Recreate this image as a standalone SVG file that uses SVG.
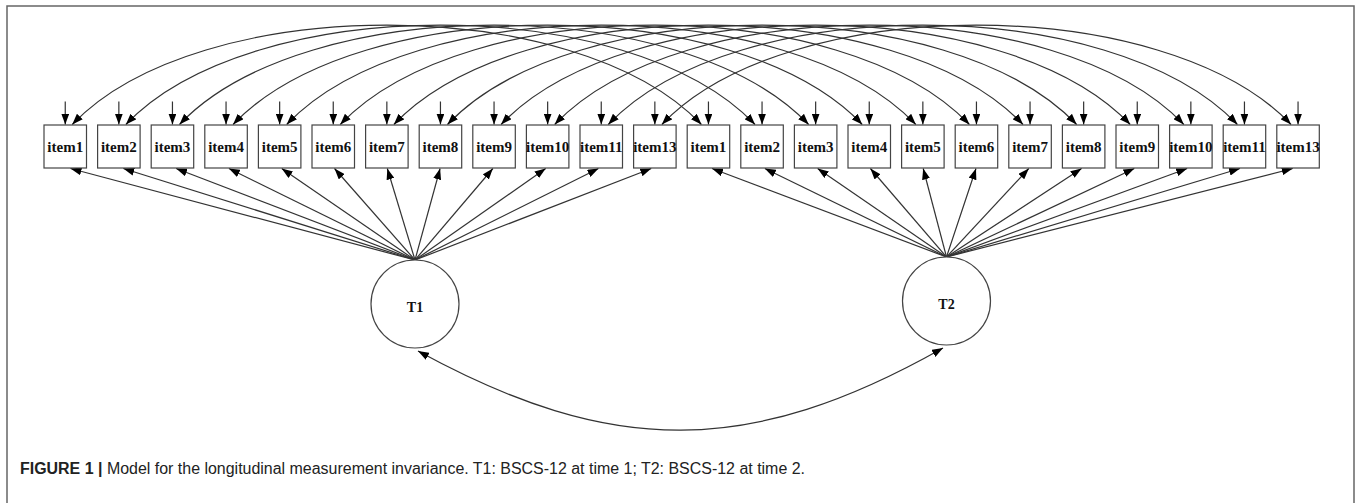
<svg xmlns="http://www.w3.org/2000/svg" width="1357" height="503" viewBox="0 0 1357 503">
<style>
.frame{fill:none;stroke:#666;stroke-width:1.5}
.box{fill:#fff;stroke:#444;stroke-width:1.2}
.lat{fill:#fff;stroke:#444;stroke-width:1.2}
.lbl{font-family:"Liberation Serif","Times New Roman",serif;font-weight:bold;font-size:15px;fill:#111;text-anchor:middle}
.tl{font-family:"Liberation Serif","Times New Roman",serif;font-weight:bold;font-size:14px;fill:#111;text-anchor:middle}
.e{fill:none;stroke:#333;stroke-width:1.2;marker-end:url(#ah)}
.c{fill:none;stroke:#333;stroke-width:1.2;marker-start:url(#ah);marker-end:url(#ah)}
.cap{font-family:"Liberation Sans",Arial,sans-serif;font-size:16px;fill:#222}
</style>
<defs>
<marker id="ah" viewBox="0 0 11 8" refX="11" refY="4" markerWidth="11" markerHeight="8" markerUnits="userSpaceOnUse" orient="auto-start-reverse">
<path d="M0,0 L11,4 L0,8 z" fill="#000"/>
</marker>
</defs>
<rect width="1357" height="503" fill="#fff"/>
<path class="frame" d="M7,503 V6 H1354 V503"/>
<g id="connectors">
<path class="c" d="M72.25,124.5 C198.25,-8 575.45,-8 701.45,124.5"/>
<path class="c" d="M125.85,124.5 C251.85,-8 629.05,-8 755.05,124.5"/>
<path class="c" d="M179.45,124.5 C305.45,-8 682.65,-8 808.65,124.5"/>
<path class="c" d="M233.05,124.5 C359.05,-8 736.25,-8 862.25,124.5"/>
<path class="c" d="M286.65,124.5 C412.65,-8 789.85,-8 915.85,124.5"/>
<path class="c" d="M340.25,124.5 C466.25,-8 843.45,-8 969.45,124.5"/>
<path class="c" d="M393.85,124.5 C519.85,-8 897.05,-8 1023.05,124.5"/>
<path class="c" d="M447.45,124.5 C573.45,-8 950.65,-8 1076.65,124.5"/>
<path class="c" d="M501.05,124.5 C627.05,-8 1004.25,-8 1130.25,124.5"/>
<path class="c" d="M554.65,124.5 C680.65,-8 1057.85,-8 1183.85,124.5"/>
<path class="c" d="M608.25,124.5 C734.25,-8 1111.45,-8 1237.45,124.5"/>
<path class="c" d="M661.85,124.5 C787.85,-8 1165.05,-8 1291.05,124.5"/>
<path class="e" d="M65.25,101.5 V124.5"/>
<path class="e" d="M118.85,101.5 V124.5"/>
<path class="e" d="M172.45,101.5 V124.5"/>
<path class="e" d="M226.05,101.5 V124.5"/>
<path class="e" d="M279.65,101.5 V124.5"/>
<path class="e" d="M333.25,101.5 V124.5"/>
<path class="e" d="M386.85,101.5 V124.5"/>
<path class="e" d="M440.45,101.5 V124.5"/>
<path class="e" d="M494.05,101.5 V124.5"/>
<path class="e" d="M547.65,101.5 V124.5"/>
<path class="e" d="M601.25,101.5 V124.5"/>
<path class="e" d="M654.85,101.5 V124.5"/>
<path class="e" d="M708.45,101.5 V124.5"/>
<path class="e" d="M762.05,101.5 V124.5"/>
<path class="e" d="M815.65,101.5 V124.5"/>
<path class="e" d="M869.25,101.5 V124.5"/>
<path class="e" d="M922.85,101.5 V124.5"/>
<path class="e" d="M976.45,101.5 V124.5"/>
<path class="e" d="M1030.05,101.5 V124.5"/>
<path class="e" d="M1083.65,101.5 V124.5"/>
<path class="e" d="M1137.25,101.5 V124.5"/>
<path class="e" d="M1190.85,101.5 V124.5"/>
<path class="e" d="M1244.45,101.5 V124.5"/>
<path class="e" d="M1298.05,101.5 V124.5"/>
<path class="e" d="M415,260 L70.5,168.5"/>
<path class="e" d="M415,260 L123.3,168.5"/>
<path class="e" d="M415,260 L176.1,168.5"/>
<path class="e" d="M415,260 L228.9,168.5"/>
<path class="e" d="M415,260 L281.7,168.5"/>
<path class="e" d="M415,260 L334.5,168.5"/>
<path class="e" d="M415,260 L387.3,168.5"/>
<path class="e" d="M415,260 L440.1,168.5"/>
<path class="e" d="M415,260 L492.9,168.5"/>
<path class="e" d="M415,260 L545.7,168.5"/>
<path class="e" d="M415,260 L598.5,168.5"/>
<path class="e" d="M415,260 L651.3,168.5"/>
<path class="e" d="M946.5,257 L712,168.5"/>
<path class="e" d="M946.5,257 L764.8,168.5"/>
<path class="e" d="M946.5,257 L817.6,168.5"/>
<path class="e" d="M946.5,257 L870.4,168.5"/>
<path class="e" d="M946.5,257 L923.2,168.5"/>
<path class="e" d="M946.5,257 L976,168.5"/>
<path class="e" d="M946.5,257 L1028.8,168.5"/>
<path class="e" d="M946.5,257 L1081.6,168.5"/>
<path class="e" d="M946.5,257 L1134.4,168.5"/>
<path class="e" d="M946.5,257 L1187.2,168.5"/>
<path class="e" d="M946.5,257 L1240,168.5"/>
<path class="e" d="M946.5,257 L1292.8,168.5"/>
<path class="c" d="M418,351 C612,457 750,457 943,348"/>
</g>
<g id="t1_item1"><rect class="box" x="44" y="125" width="42.5" height="43"/><text class="lbl" x="65.25" y="151.5">item1</text></g>
<g id="t1_item2"><rect class="box" x="97.6" y="125" width="42.5" height="43"/><text class="lbl" x="118.85" y="151.5">item2</text></g>
<g id="t1_item3"><rect class="box" x="151.2" y="125" width="42.5" height="43"/><text class="lbl" x="172.45" y="151.5">item3</text></g>
<g id="t1_item4"><rect class="box" x="204.8" y="125" width="42.5" height="43"/><text class="lbl" x="226.05" y="151.5">item4</text></g>
<g id="t1_item5"><rect class="box" x="258.4" y="125" width="42.5" height="43"/><text class="lbl" x="279.65" y="151.5">item5</text></g>
<g id="t1_item6"><rect class="box" x="312" y="125" width="42.5" height="43"/><text class="lbl" x="333.25" y="151.5">item6</text></g>
<g id="t1_item7"><rect class="box" x="365.6" y="125" width="42.5" height="43"/><text class="lbl" x="386.85" y="151.5">item7</text></g>
<g id="t1_item8"><rect class="box" x="419.2" y="125" width="42.5" height="43"/><text class="lbl" x="440.45" y="151.5">item8</text></g>
<g id="t1_item9"><rect class="box" x="472.8" y="125" width="42.5" height="43"/><text class="lbl" x="494.05" y="151.5">item9</text></g>
<g id="t1_item10"><rect class="box" x="526.4" y="125" width="42.5" height="43"/><text class="lbl" x="547.65" y="151.5">item10</text></g>
<g id="t1_item11"><rect class="box" x="580" y="125" width="42.5" height="43"/><text class="lbl" x="601.25" y="151.5">item11</text></g>
<g id="t1_item13"><rect class="box" x="633.6" y="125" width="42.5" height="43"/><text class="lbl" x="654.85" y="151.5">item13</text></g>
<g id="t2_item1"><rect class="box" x="687.2" y="125" width="42.5" height="43"/><text class="lbl" x="708.45" y="151.5">item1</text></g>
<g id="t2_item2"><rect class="box" x="740.8" y="125" width="42.5" height="43"/><text class="lbl" x="762.05" y="151.5">item2</text></g>
<g id="t2_item3"><rect class="box" x="794.4" y="125" width="42.5" height="43"/><text class="lbl" x="815.65" y="151.5">item3</text></g>
<g id="t2_item4"><rect class="box" x="848" y="125" width="42.5" height="43"/><text class="lbl" x="869.25" y="151.5">item4</text></g>
<g id="t2_item5"><rect class="box" x="901.6" y="125" width="42.5" height="43"/><text class="lbl" x="922.85" y="151.5">item5</text></g>
<g id="t2_item6"><rect class="box" x="955.2" y="125" width="42.5" height="43"/><text class="lbl" x="976.45" y="151.5">item6</text></g>
<g id="t2_item7"><rect class="box" x="1008.8" y="125" width="42.5" height="43"/><text class="lbl" x="1030.05" y="151.5">item7</text></g>
<g id="t2_item8"><rect class="box" x="1062.4" y="125" width="42.5" height="43"/><text class="lbl" x="1083.65" y="151.5">item8</text></g>
<g id="t2_item9"><rect class="box" x="1116" y="125" width="42.5" height="43"/><text class="lbl" x="1137.25" y="151.5">item9</text></g>
<g id="t2_item10"><rect class="box" x="1169.6" y="125" width="42.5" height="43"/><text class="lbl" x="1190.85" y="151.5">item10</text></g>
<g id="t2_item11"><rect class="box" x="1223.2" y="125" width="42.5" height="43"/><text class="lbl" x="1244.45" y="151.5">item11</text></g>
<g id="t2_item13"><rect class="box" x="1276.8" y="125" width="42.5" height="43"/><text class="lbl" x="1298.05" y="151.5">item13</text></g>
<g id="T1"><circle class="lat" cx="415" cy="304" r="44"/><text class="tl" x="415" y="312">T1</text></g>
<g id="T2"><circle class="lat" cx="946.5" cy="301" r="44"/><text class="tl" x="946.5" y="309">T2</text></g>
<text class="cap" x="20" y="474" textLength="785" lengthAdjust="spacingAndGlyphs"><tspan font-weight="bold">FIGURE 1 |</tspan> Model for the longitudinal measurement invariance. T1: BSCS-12 at time 1; T2: BSCS-12 at time 2.</text>
</svg>
